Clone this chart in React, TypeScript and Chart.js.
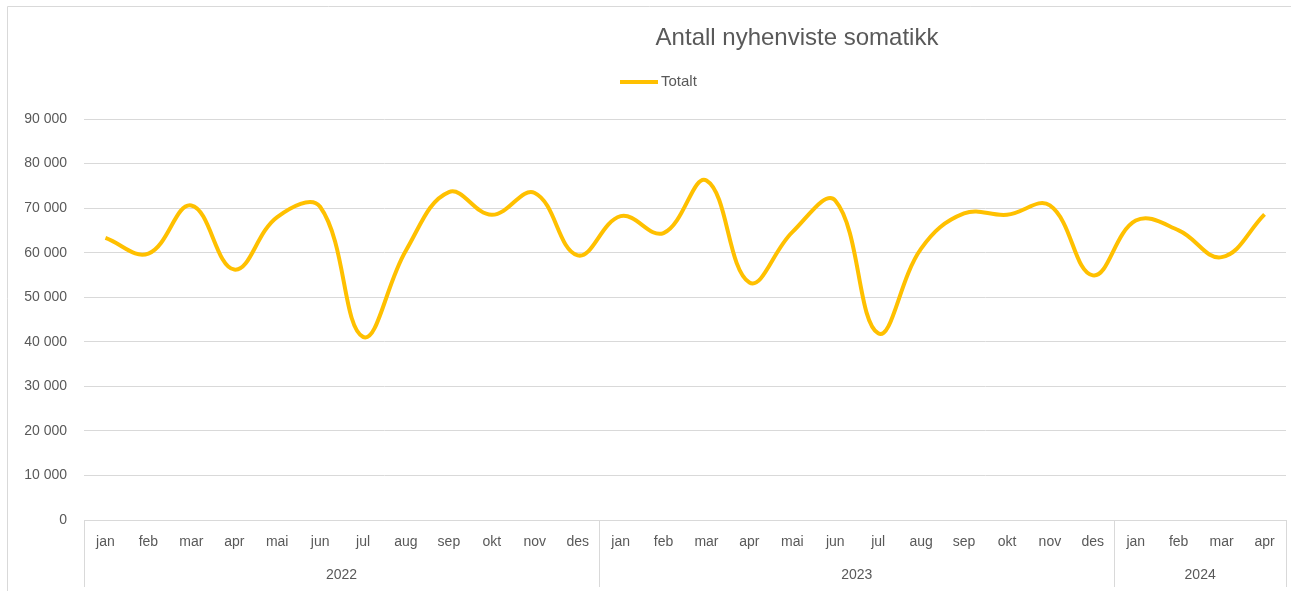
import React, { useEffect, useRef } from "react";
import { Chart, registerables } from "chart.js";

Chart.register(...registerables);

const chartTitle = "Antall nyhenviste somatikk";
const seriesName = "Totalt";

const monthLabels = [
  "jan", "feb", "mar", "apr", "mai", "jun", "jul", "aug", "sep", "okt", "nov", "des",
  "jan", "feb", "mar", "apr", "mai", "jun", "jul", "aug", "sep", "okt", "nov", "des",
  "jan", "feb", "mar", "apr",
];

const yearLabels = ["2022", "2023", "2024"];
const yearMonthCounts = [12, 12, 4];

const totalValues = [
  63300, 59800, 70600, 56200, 68000, 70300, 41100, 60500, 73600, 68500, 73400, 59400,
  68200, 64400, 76200, 53300, 64600, 71700, 41900, 60900, 68800, 68500, 70600, 54900,
  67200, 65000, 59000, 68600,
];

const yMin = 0;
const yMax = 90000;
const yStep = 10000;

const FONT = "'Liberation Sans', Arial, sans-serif";
const TEXT = "#595959";
const GRID = "#d9d9d9";
const LINE = "#FFC000";

const fmt = (v: number) => String(v).replace(/\B(?=(\d{3})+(?!\d))/g, " ");

const decorPlugin = {
  id: "decor",
  afterDraw(chart: any) {
    const ctx = chart.ctx;
    const area = chart.chartArea;
    const xs = chart.scales.x;
    const n = monthLabels.length;
    const cw = (area.right - area.left) / n;
    ctx.save();
    // outer border
    ctx.strokeStyle = GRID;
    ctx.lineWidth = 1;
    ctx.beginPath();
    ctx.moveTo(7.5, chart.height);
    ctx.lineTo(7.5, 6.5);
    ctx.lineTo(chart.width, 6.5);
    ctx.stroke();

    // group separators and year labels
    let start = 0;
    const bottom = chart.height;
    ctx.font = `14px ${FONT}`;
    ctx.fillStyle = TEXT;
    ctx.textAlign = "center";
    ctx.textBaseline = "middle";
    const drawSep = (x: number) => {
      ctx.beginPath();
      ctx.moveTo(Math.round(x) + 0.5, area.bottom);
      ctx.lineTo(Math.round(x) + 0.5, bottom - 4);
      ctx.stroke();
    };
    drawSep(xs.getPixelForValue(0) - cw / 2);
    yearLabels.forEach((y, i) => {
      const cnt = yearMonthCounts[i];
      const x0 = xs.getPixelForValue(start) - cw / 2;
      const x1 = xs.getPixelForValue(start + cnt - 1) + cw / 2;
      ctx.fillText(y, (x0 + x1) / 2, 575);
      drawSep(x1);
      start += cnt;
    });

    // title
    ctx.font = `24px ${FONT}`;
    ctx.fillStyle = TEXT;
    ctx.textAlign = "center";
    ctx.fillText(chartTitle, 797, 38);

    // legend
    ctx.strokeStyle = LINE;
    ctx.lineWidth = 4;
    ctx.beginPath();
    ctx.moveTo(620, 82);
    ctx.lineTo(658, 82);
    ctx.stroke();
    ctx.font = `15px ${FONT}`;
    ctx.textAlign = "left";
    ctx.fillText(seriesName, 661, 82);
    ctx.restore();
  },
};

export default function App() {
  const ref = useRef<HTMLCanvasElement>(null);
  useEffect(() => {
    if (!ref.current) return;
    const chart = new Chart(ref.current, {
      type: "line",
      data: {
        labels: monthLabels,
        datasets: [
          {
            label: seriesName,
            data: totalValues,
            borderColor: LINE,
            backgroundColor: LINE,
            borderWidth: 4,
            pointRadius: 0,
            tension: 0.4,
            fill: false,
          },
        ],
      },
      options: {
        responsive: false,
        animation: false,
        layout: { padding: { top: 119, right: 5, left: 0, bottom: 0 } },
        plugins: {
          legend: { display: false },
          title: { display: false },
          tooltip: { enabled: false },
        },
        scales: {
          x: {
            type: "category",
            offset: true,
            grid: { display: false, drawTicks: false },
            border: { display: true, color: GRID },
            ticks: {
              autoSkip: false,
              maxRotation: 0,
              minRotation: 0,
              padding: 14,
              color: TEXT,
              font: { family: FONT, size: 14 },
            },
            afterFit: (s: any) => {
              s.height = 71;
            },
          },
          y: {
            min: yMin,
            max: yMax,
            ticks: {
              stepSize: yStep,
              padding: 17,
              color: TEXT,
              font: { family: FONT, size: 14 },
              callback: (v: any) => fmt(Number(v)),
            },
            grid: { color: GRID, lineWidth: 1, drawTicks: false },
            border: { display: false },
            afterFit: (s: any) => {
              s.width = 84;
            },
          },
        },
      },
      plugins: [decorPlugin],
    });
    return () => chart.destroy();
  }, []);
  return (
    <div style={{ position: "absolute", left: 0, top: 0, width: 1291, height: 591, background: "#fff" }}>
      <canvas ref={ref} width={1291} height={591} style={{ display: "block" }} />
    </div>
  );
}
